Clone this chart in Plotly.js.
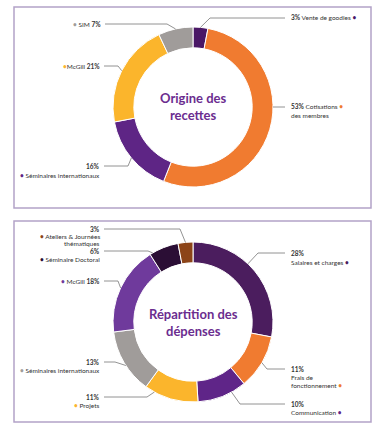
<!DOCTYPE html>
<html><head><meta charset="utf-8">
<script src="https://cdn.plot.ly/plotly-3.0.1.min.js"></script>
<style>html,body{margin:0;padding:0;background:#fff;}#chart{width:384px;height:432px;}</style>
</head><body><div id="chart"></div>
<script>
// ---- DATA ----
const topLabels = ['Vente de goodies', 'Cotisations des membres', 'Séminaires internationaux', 'McGill', 'SIM'];
const topValues = [3, 53, 16, 21, 7];
const topColors = ['#4a1766', '#f07b30', '#5e2585', '#fbb52c', '#a09c9a'];
const topTitle = 'Origine des<br>recettes';

const botLabels = ['Salaires et charges', 'Frais de fonctionnement', 'Communication', 'Projets', 'Séminaires internationaux', 'McGill', 'Séminaire Doctoral', 'Ateliers & Journées thématiques'];
const botValues = [28, 11, 10, 11, 13, 18, 6, 3];
const botColors = ['#4b1d5e', '#f07b30', '#5f2588', '#fbb52c', '#a09c9a', '#6f3a9c', '#2b0e35', '#8c4418'];
const botTitle = 'Répartition des<br>dépenses';

// label text templates ({p} = percentage, {d} = colour dot)
const topText = [
  ['{p} Vente de goodies {d}'],
  ['{p} Cotisations {d}', 'des membres'],
  ['{p}', '{d} Séminaires internationaux'],
  ['{d}McGill {p}'],
  ['{d} SIM {p}']
];
const botText = [
  ['{p}', 'Salaires et charges {d}'],
  ['{p}', 'Frais de', 'fonctionnement {d}'],
  ['{p}', 'Communication {d}'],
  ['{p}', '{d} Projets'],
  ['{p}', '{d} Séminaires internationaux'],
  ['{d} McGill {p}'],
  ['{p}', '{d} Séminaire Doctoral'],
  ['{p}', '{d} Ateliers & Journées', 'thématiques']
];

// ---- LAYOUT PARAMETERS (pixels) ----
const W = 384, H = 432;
const R = 80, HOLE = 0.74;
const topC = {x: 193, y: 107};
const botC = {x: 193, y: 322};
// per-label placement: side, f (position inside slice), line y values, elbow x, end x
const topPlace = [
  {side: 'r', f: 0.5, ys: [18], ex: 210, end: 285},
  {side: 'r', f: 0.415, ys: [107, 115], ex: null, end: 285},
  {side: 'l', f: 0.5, ys: [166, 175], ex: 128, end: 104},
  {side: 'l', f: 0.5, ys: [66], ex: 118, end: 104},
  {side: 'l', f: 0.5, ys: [24], ex: 167, end: 105}
];
const botPlace = [
  {side: 'r', f: 0.43, ys: [253, 262], ex: 258, end: 285},
  {side: 'r', f: 0.5, ys: [369, 377, 385], ex: 267, end: 285},
  {side: 'r', f: 0.3, ys: [404, 412], ex: 240, end: 285},
  {side: 'l', f: 0.82, ys: [397, 405], ex: 147, end: 104},
  {side: 'l', f: 0.45, ys: [362, 370], ex: 115, end: 104},
  {side: 'l', f: 0.5, ys: [281], ex: 118, end: 104},
  {side: 'l', f: 0.1, ys: [251, 259], ex: 148, end: 104},
  {side: 'l', f: 0.5, ys: [229, 236, 244], ex: 180, end: 104}
];

const px = x => x / W, py = y => 1 - y / H;
const textFont = {family: 'Lato, "Open Sans", sans-serif', size: 6.5, color: '#333'};

function domain(c) {
  return {x: [px(c.x - R), px(c.x + R)], y: [py(c.y + R), py(c.y - R)]};
}
function pieTrace(labels, values, colors, c) {
  return {
    type: 'pie', labels: labels, values: values, sort: false, direction: 'clockwise', rotation: 0,
    hole: HOLE, textinfo: 'none', hoverinfo: 'label+percent', showlegend: false,
    marker: {colors: colors, line: {color: '#ffffff', width: 1}},
    domain: domain(c)
  };
}

const shapes = [], annotations = [];
function addLabels(values, colors, texts, place, c) {
  const total = values.reduce((a, b) => a + b, 0);
  let cum = 0;
  values.forEach((v, i) => {
    const p = place[i];
    const a = 2 * Math.PI * (cum + p.f * v) / total;
    cum += v;
    const ax = c.x + R * Math.sin(a), ay = c.y - R * Math.cos(a);
    const ly = p.ys[0];
    const ex = p.ex === null ? ax : p.ex;
    shapes.push({type: 'path', xref: 'paper', yref: 'paper',
      path: `M${px(ax)},${py(ay)} L${px(ex)},${py(ly)} L${px(p.end)},${py(ly)}`,
      line: {color: '#777', width: 0.8}});
    const dot = `<span style="color:${colors[i]}"><b>•</b></span>`;
    texts[i].forEach((t, k) => {
      const s = t.replace('{p}', `<b>${v}%</b>`).replace('{d}', dot);
      annotations.push({xref: 'paper', yref: 'paper', x: px(p.side === 'r' ? p.end + 4 : p.end - 2), y: py(p.ys[k]),
        xanchor: p.side === 'r' ? 'left' : 'right', yanchor: 'middle', showarrow: false, text: s, font: textFont});
    });
  });
}
addLabels(topValues, topColors, topText, topPlace, topC);
addLabels(botValues, botColors, botText, botPlace, botC);

[[topTitle, topC], [botTitle, botC]].forEach(([t, c]) => {
  annotations.push({xref: 'paper', yref: 'paper', x: px(c.x), y: py(c.y), xanchor: 'center', yanchor: 'middle',
    showarrow: false, text: `<b>${t}</b>`, font: {family: 'Lato, "Open Sans", sans-serif', size: 13, color: '#6b2d8f'}});
});

// panel frames
shapes.push({type: 'rect', xref: 'paper', yref: 'paper', x0: px(14), x1: px(371), y0: py(208), y1: py(7), line: {color: '#b3a2c8', width: 1.5}});
shapes.push({type: 'rect', xref: 'paper', yref: 'paper', x0: px(14), x1: px(371), y0: py(422), y1: py(221), line: {color: '#b3a2c8', width: 1.5}});

const layout = {
  width: W, height: H, margin: {l: 0, r: 0, t: 0, b: 0},
  paper_bgcolor: '#ffffff', plot_bgcolor: '#ffffff',
  shapes: shapes, annotations: annotations
};
Plotly.newPlot('chart', [pieTrace(topLabels, topValues, topColors, topC), pieTrace(botLabels, botValues, botColors, botC)], layout, {displayModeBar: false, staticPlot: true});
</script></body></html>
